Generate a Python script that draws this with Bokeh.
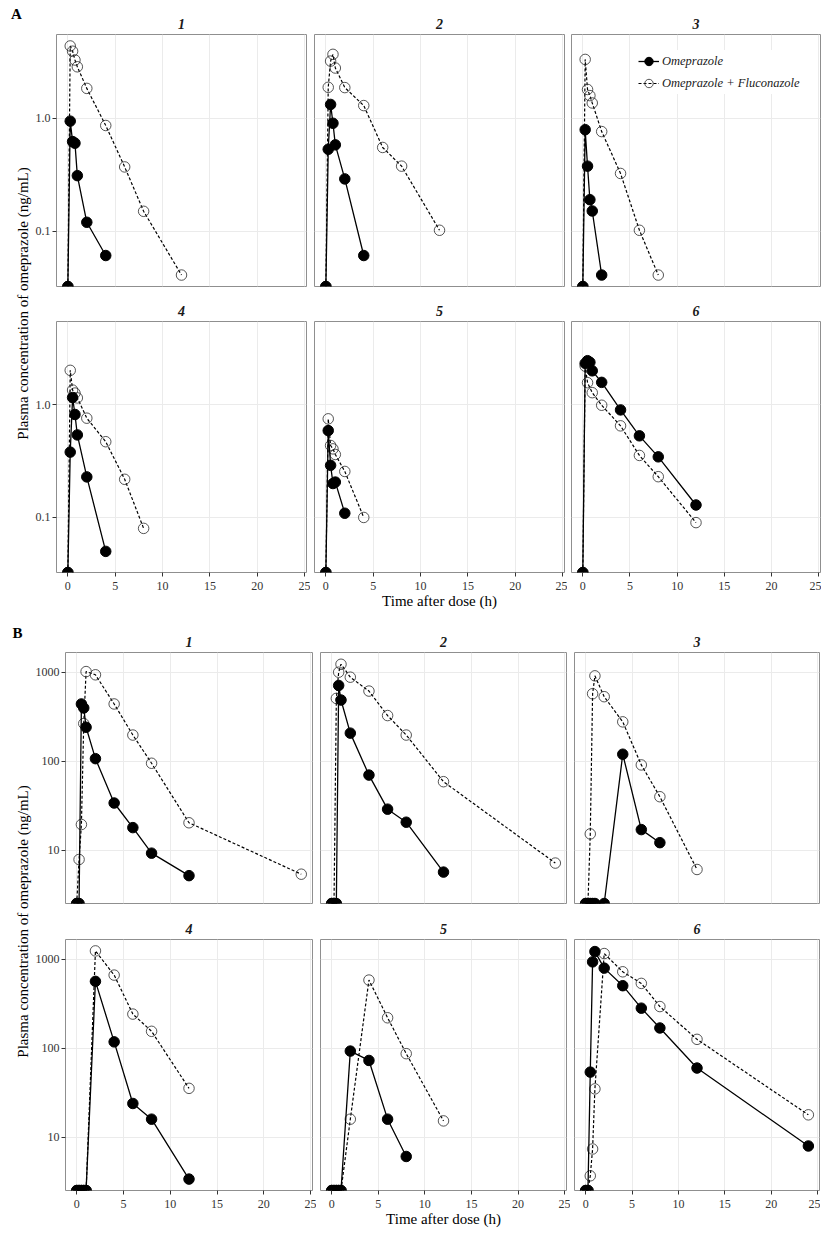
import math
from bokeh.plotting import figure
from bokeh.layouts import row, column
from bokeh.models import Range1d, FixedTicker, PrintfTickFormatter, Legend, LegendItem
from bokeh.embed import file_html
from bokeh.resources import INLINE
from bokeh.core.properties import value

# ---------------- data (time in h, concentration in ng/mL; 0 = below LLOQ) ----------------
SERIES_LABELS = ["Omeprazole", "Omeprazole + Fluconazole"]
SUBJECTS = ["1", "2", "3", "4", "5", "6"]
X_TICKS = [0, 5, 10, 15, 20, 25]
Y_TICKS_A = [0.1, 1.0]
Y_TICKS_B = [10, 100, 1000]
Y_LABEL = "Plasma concentration of omeprazole (ng/mL)"
X_LABEL = "Time after dose (h)"

# Panel A
A1_OME_T = [0, 0.25, 0.5, 0.75, 1, 2, 4]
A1_OME_C = [0, 0.94, 0.62, 0.60, 0.31, 0.12, 0.061]
A1_FLU_T = [0, 0.25, 0.5, 0.75, 1, 2, 4, 6, 8, 12]
A1_FLU_C = [0, 4.34, 3.9, 3.26, 2.84, 1.83, 0.86, 0.37, 0.15, 0.041]

A2_OME_T = [0, 0.25, 0.5, 0.75, 1, 2, 4]
A2_OME_C = [0, 0.53, 1.32, 0.90, 0.58, 0.29, 0.061]
A2_FLU_T = [0, 0.25, 0.5, 0.75, 1, 2, 4, 6, 8, 12]
A2_FLU_C = [0, 1.87, 3.19, 3.66, 2.77, 1.86, 1.29, 0.55, 0.376, 0.102]

A3_OME_T = [0, 0.25, 0.5, 0.75, 1, 2]
A3_OME_C = [0, 0.79, 0.376, 0.19, 0.151, 0.041]
A3_FLU_T = [0, 0.25, 0.5, 0.75, 1, 2, 4, 6, 8]
A3_FLU_C = [0, 3.3, 1.79, 1.58, 1.36, 0.76, 0.324, 0.102, 0.041]

A4_OME_T = [0, 0.25, 0.5, 0.75, 1, 2, 4]
A4_OME_C = [0, 0.38, 1.16, 0.82, 0.54, 0.229, 0.050]
A4_FLU_T = [0, 0.25, 0.5, 0.75, 1, 2, 4, 6, 8]
A4_FLU_C = [0, 2.02, 1.35, 1.27, 1.15, 0.76, 0.47, 0.218, 0.080]

A5_OME_T = [0, 0.25, 0.5, 0.75, 1, 2]
A5_OME_C = [0, 0.59, 0.29, 0.20, 0.206, 0.109]
A5_FLU_T = [0, 0.25, 0.5, 0.75, 1, 2, 4]
A5_FLU_C = [0, 0.75, 0.435, 0.406, 0.362, 0.256, 0.10]

A6_OME_T = [0, 0.25, 0.5, 0.75, 1, 2, 4, 6, 8, 12]
A6_OME_C = [0, 2.33, 2.46, 2.38, 2.0, 1.58, 0.90, 0.53, 0.345, 0.129]
A6_FLU_T = [0, 0.25, 0.5, 1, 2, 4, 6, 8, 12]
A6_FLU_C = [0, 2.2, 1.57, 1.28, 0.99, 0.65, 0.355, 0.23, 0.090]

# Panel B
B1_OME_T = [0, 0.25, 0.5, 0.75, 1, 2, 4, 6, 8, 12]
B1_OME_C = [0, 0, 440, 397, 241, 107, 34, 18, 9.3, 5.2]
B1_FLU_T = [0, 0.25, 0.5, 0.75, 1, 2, 4, 6, 8, 12, 24]
B1_FLU_C = [0, 7.9, 19.5, 265, 1016, 935, 440, 197, 95, 20.4, 5.4]

B2_OME_T = [0, 0.25, 0.5, 0.75, 1, 2, 4, 6, 8, 12]
B2_OME_C = [0, 0, 0, 710, 487, 207, 70, 29, 20.7, 5.7]
B2_FLU_T = [0, 0.25, 0.5, 0.75, 1, 2, 4, 6, 8, 12, 24]
B2_FLU_C = [0, 0, 508, 1000, 1228, 879, 614, 326, 197, 59, 7.2]

B3_OME_T = [0, 0.25, 0.5, 0.75, 1, 2, 4, 6, 8]
B3_OME_C = [0, 0, 0, 0, 0, 0, 120, 17.1, 12.2]
B3_FLU_T = [0, 0.25, 0.5, 0.75, 1, 2, 4, 6, 8, 12]
B3_FLU_C = [0, 0, 15.3, 573, 910, 531, 277, 91, 40, 6.1]

B4_OME_T = [0, 0.25, 0.5, 0.75, 1, 2, 4, 6, 8, 12]
B4_OME_C = [0, 0, 0, 0, 0, 564, 118, 24, 16, 3.4]
B4_FLU_T = [0, 0.25, 0.5, 0.75, 1, 2, 4, 6, 8, 12]
B4_FLU_C = [0, 0, 0, 0, 0, 1239, 663, 242, 155, 35.5]

B5_OME_T = [0, 0.25, 0.5, 0.75, 1, 2, 4, 6, 8]
B5_OME_C = [0, 0, 0, 0, 0, 93, 73, 16, 6.1]
B5_FLU_T = [0, 0.25, 0.5, 0.75, 1, 2, 4, 6, 8, 12]
B5_FLU_C = [0, 0, 0, 0, 0, 16, 583, 220, 87, 15.3]

B6_OME_T = [0, 0.25, 0.5, 0.75, 1, 2, 4, 6, 8, 12, 24]
B6_OME_C = [0, 0, 54, 933, 1218, 794, 504, 282, 169, 60, 8.0]
B6_FLU_T = [0, 0.25, 0.5, 0.75, 1, 2, 4, 6, 8, 12, 24]
B6_FLU_C = [0, 0, 3.7, 7.4, 35, 1157, 722, 535, 294, 126, 17.9]

PANELS_A = [
    (A1_OME_T, A1_OME_C, A1_FLU_T, A1_FLU_C),
    (A2_OME_T, A2_OME_C, A2_FLU_T, A2_FLU_C),
    (A3_OME_T, A3_OME_C, A3_FLU_T, A3_FLU_C),
    (A4_OME_T, A4_OME_C, A4_FLU_T, A4_FLU_C),
    (A5_OME_T, A5_OME_C, A5_FLU_T, A5_FLU_C),
    (A6_OME_T, A6_OME_C, A6_FLU_T, A6_FLU_C),
]
PANELS_B = [
    (B1_OME_T, B1_OME_C, B1_FLU_T, B1_FLU_C),
    (B2_OME_T, B2_OME_C, B2_FLU_T, B2_FLU_C),
    (B3_OME_T, B3_OME_C, B3_FLU_T, B3_FLU_C),
    (B4_OME_T, B4_OME_C, B4_FLU_T, B4_FLU_C),
    (B5_OME_T, B5_OME_C, B5_FLU_T, B5_FLU_C),
    (B6_OME_T, B6_OME_C, B6_FLU_T, B6_FLU_C),
]

# ---------------- styling ----------------
SERIF = "Liberation Serif"
GRID = "#ebebeb"
FRAME = "#8f8f8f"
TICKC = "#333333"


def log_range(panels):
    vals = [v for p in panels for arr in (p[1], p[3]) for v in arr if v > 0]
    lo, hi = math.log10(min(vals)), math.log10(max(vals))
    pad = 0.05 * (hi - lo)
    return 10 ** (lo - pad), 10 ** (hi + pad)


all_t = [t for P in (PANELS_A, PANELS_B) for p in P for arr in (p[0], p[2]) for t in arr]
t_pad = 0.05 * (max(all_t) - min(all_t))
X_LO, X_HI = min(all_t) - t_pad, max(all_t) + t_pad


def make_panel(idx, data, yr, fw, fh, bl, br, bt, bb, show_x, show_y, yticks, yfmt,
               xlabel=None, legend=None):
    ylo, yhi = yr
    p = figure(frame_width=fw, frame_height=fh,
               x_range=Range1d(X_LO, X_HI), y_range=Range1d(ylo, yhi),
               y_axis_type="log", output_backend="svg", toolbar_location=None,
               x_axis_location="below" if show_x else None,
               y_axis_location="left" if show_y else None,
               min_border_left=bl, min_border_right=br,
               min_border_top=bt, min_border_bottom=bb,
               outline_line_color=FRAME, outline_line_width=1,
               background_fill_color="white", border_fill_color="white")
    p.title.text = SUBJECTS[idx]
    p.title.align = "center"
    p.title.text_font = SERIF
    p.title.text_font_style = "bold italic"
    p.title.text_font_size = "14px"
    p.title.text_color = "#1a1a1a"
    p.title.standoff = 12

    p.xgrid.ticker = FixedTicker(ticks=X_TICKS)
    p.ygrid.ticker = FixedTicker(ticks=yticks)
    p.xgrid.grid_line_color = GRID
    p.ygrid.grid_line_color = GRID
    p.xgrid.grid_line_width = 1
    p.ygrid.grid_line_width = 1

    for ax in list(p.xaxis) + list(p.yaxis):
        ax.axis_line_color = None
        ax.major_tick_line_color = TICKC
        ax.major_tick_out = 4
        ax.major_tick_in = 0
        ax.minor_tick_line_color = None
        ax.major_label_text_font = SERIF
        ax.major_label_text_font_size = "12px"
        ax.major_label_text_color = TICKC
        ax.major_label_standoff = 2
    if show_x:
        p.xaxis.ticker = FixedTicker(ticks=X_TICKS)
        p.xaxis.major_label_standoff = 5
        if xlabel:
            p.xaxis.axis_label = xlabel
            p.xaxis.axis_label_text_font = SERIF
            p.xaxis.axis_label_text_font_style = "normal"
            p.xaxis.axis_label_text_font_size = "15px"
            p.xaxis.axis_label_text_color = "black"
            p.xaxis.axis_label_standoff = 0
    if show_y:
        p.yaxis.ticker = FixedTicker(ticks=yticks)
        p.yaxis.formatter = PrintfTickFormatter(format=yfmt)

    ot, oc, ft, fc = data
    # zero (below limit) values are drawn on the lower panel edge, like -Inf in ggplot
    oc_plot = [c if c > 0 else ylo for c in oc]
    fc_plot = [c if c > 0 else ylo for c in fc]

    l2 = p.line(ft, fc_plot, line_color="black", line_width=1.2, line_dash="3 2")
    s2 = p.scatter(ft, fc_plot, size=10.5, marker="circle", fill_alpha=0,
                   line_color="#2a2a2a", line_width=0.8)
    l1 = p.line(ot, oc_plot, line_color="black", line_width=1.3)
    s1 = p.scatter(ot, oc_plot, size=10.5, marker="circle", fill_color="black",
                   line_color="black")

    if legend is not None:
        lg = Legend(items=[LegendItem(label=SERIES_LABELS[0], renderers=[l1, s1]),
                           LegendItem(label=SERIES_LABELS[1], renderers=[l2, s2])],
                    location=legend, label_text_font=SERIF,
                    label_text_font_style="italic", label_text_font_size="12.5px",
                    label_text_color="#1a1a1a",
                    glyph_width=21, glyph_height=22, label_height=22,
                    spacing=0, padding=2, margin=0, label_standoff=3,
                    border_line_color=None, background_fill_color="white",
                    background_fill_alpha=1)
        p.add_layout(lg)
    return p


def side_fig(height, letter, letter_xy, label_y):
    p = figure(width=32, height=height, x_range=Range1d(0, 32), y_range=Range1d(0, height),
               output_backend="svg", toolbar_location=None,
               x_axis_location=None, y_axis_location=None, min_border=0,
               outline_line_color=None, background_fill_color="white",
               border_fill_color="white")
    p.xgrid.visible = False
    p.ygrid.visible = False
    p.text(x=[letter_xy[0]], y=[letter_xy[1]], text=[letter], text_font=value(SERIF),
           text_font_style="bold", text_font_size="15px", text_align="center",
           text_baseline="middle", text_color="black")
    p.text(x=[22], y=[label_y], text=[Y_LABEL], angle=math.pi / 2, text_font=value(SERIF),
           text_font_size="15px", text_align="center", text_baseline="middle",
           text_color="black")
    return p


# ---------------- section A ----------------
yrA = log_range(PANELS_A)
fwA = [250, 250, 249]
blA = [22, 4, 4]
brA = [4, 3, 1]
hA = 620
figsA = []
for i in range(6):
    c = i % 3
    top = i < 3
    figsA.append(make_panel(
        i, PANELS_A[i], yrA, fwA[c], 252 if top else 251, blA[c], brA[c],
        34 if top else 34, 1 if top else 48,
        show_x=not top, show_y=(c == 0), yticks=Y_TICKS_A, yfmt="%.1f",
        xlabel=X_LABEL if i == 4 else None,
        legend=(67, 192) if i == 2 else None))
sideA = side_fig(hA, "A", (16, hA - 13), hA - 303)
secA = row(sideA, column(row(*figsA[:3]), row(*figsA[3:])))

# ---------------- section B ----------------
yrB = log_range(PANELS_B)
fwB = [247, 246, 245]
blB = [32, 4, 4]
brB = [4, 4, 1]
hB = 612
figsB = []
for i in range(6):
    c = i % 3
    top = i < 3
    figsB.append(make_panel(
        i, PANELS_B[i], yrB, fwB[c], 251, blB[c], brB[c],
        32 if top else 35, 1 if top else 42,
        show_x=not top, show_y=(c == 0), yticks=Y_TICKS_B, yfmt="%d",
        xlabel=X_LABEL if i == 4 else None))
sideB = side_fig(hB, "B", (17, hB - 12), hB - 301)
secB = row(sideB, column(row(*figsB[:3]), row(*figsB[3:])))

layout = column(secA, secB)
open("out.html", "w").write(file_html(layout, INLINE))
